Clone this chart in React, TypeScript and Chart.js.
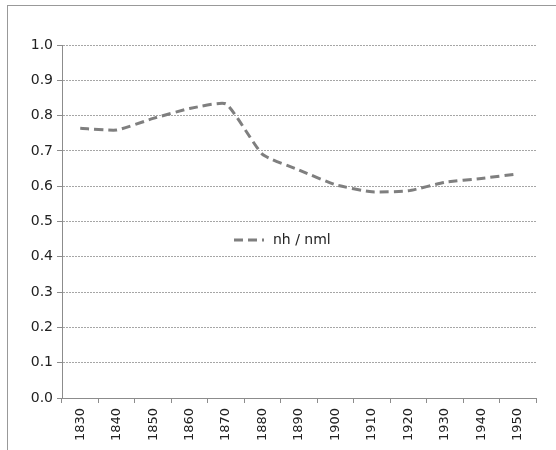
import React, { useEffect, useRef } from "react";
import { Chart, registerables } from "chart.js";

Chart.register(...registerables);

const years = ["1830", "1840", "1850", "1860", "1870", "1880", "1890", "1900", "1910", "1920", "1930", "1940", "1950"];
const nhNml = [0.764, 0.759, 0.792, 0.82, 0.833, 0.69, 0.646, 0.604, 0.584, 0.587, 0.611, 0.622, 0.635];
const seriesLabel = "nh / nml";
const yTicks = [0, 0.1, 0.2, 0.3, 0.4, 0.5, 0.6, 0.7, 0.8, 0.9, 1.0];

const FONT = "'DejaVu Sans', Arial, sans-serif";

const legendPlugin = {
  id: "innerLegend",
  afterDraw(chart: any) {
    const ctx = chart.ctx;
    const ds = chart.data.datasets[0];
    ctx.save();
    ctx.strokeStyle = ds.borderColor;
    ctx.lineWidth = ds.borderWidth;
    ctx.setLineDash(ds.borderDash);
    ctx.beginPath();
    ctx.moveTo(234, 240);
    ctx.lineTo(264, 240);
    ctx.stroke();
    ctx.setLineDash([]);
    ctx.fillStyle = "#222";
    ctx.font = "14px " + FONT;
    ctx.textBaseline = "middle";
    ctx.textAlign = "left";
    ctx.fillText(ds.label, 273, 240);
    ctx.restore();
  },
};

export default function App() {
  const ref = useRef<HTMLCanvasElement>(null);
  useEffect(() => {
    const chart = new Chart(ref.current!, {
      type: "line",
      data: {
        labels: years,
        datasets: [
          {
            label: seriesLabel,
            data: nhNml,
            borderColor: "#7f7f7f",
            borderWidth: 3,
            borderDash: [9, 5],
            pointRadius: 0,
            tension: 0.15,
            fill: false,
          },
        ],
      },
      options: {
        animation: false,
        responsive: false,
        maintainAspectRatio: false,
        layout: { padding: { left: 0, top: 45, right: 20, bottom: 0 } },
        plugins: { legend: { display: false }, tooltip: { enabled: false } },
        scales: {
          x: {
            offset: true,
            afterFit: (s: any) => { s.height = 52; },
            grid: {
              offset: true,
              drawOnChartArea: false,
              drawTicks: true,
              tickLength: 5,
              color: "#8c8c8c",
            },
            border: { color: "#8c8c8c", width: 1 },
            ticks: {
              autoSkip: false,
              maxRotation: 90,
              minRotation: 90,
              padding: 5,
              color: "#222",
              font: { family: FONT, size: 13 },
            },
          },
          y: {
            min: 0,
            max: 1,
            afterFit: (s: any) => { s.width = 62; },
            afterBuildTicks: (s: any) => { s.ticks = yTicks.map((v) => ({ value: v })); },
            grid: {
              color: "#a6a6a6",
              lineWidth: 1,
              tickLength: 5,
              tickColor: "#8c8c8c",
            },
            border: { color: "#8c8c8c", width: 1, dash: [2, 1] },
            ticks: {
              padding: 4,
              color: "#222",
              font: { family: FONT, size: 14 },
              callback: (v: any) => Number(v).toFixed(1),
            },
          },
        },
      },
      plugins: [legendPlugin],
    } as any);
    return () => chart.destroy();
  }, []);
  return (
    <div style={{ position: "absolute", left: 0, top: 0, width: 556, height: 450, background: "#fff" }}>
      <div
        style={{
          position: "absolute",
          left: 7,
          top: 5,
          width: 549,
          height: 445,
          borderTop: "1px solid #999",
          borderLeft: "1px solid #999",
          boxSizing: "border-box",
        }}
      />
      <canvas ref={ref} width={556} height={450} style={{ position: "absolute", left: 0, top: 0 }} />
    </div>
  );
}
